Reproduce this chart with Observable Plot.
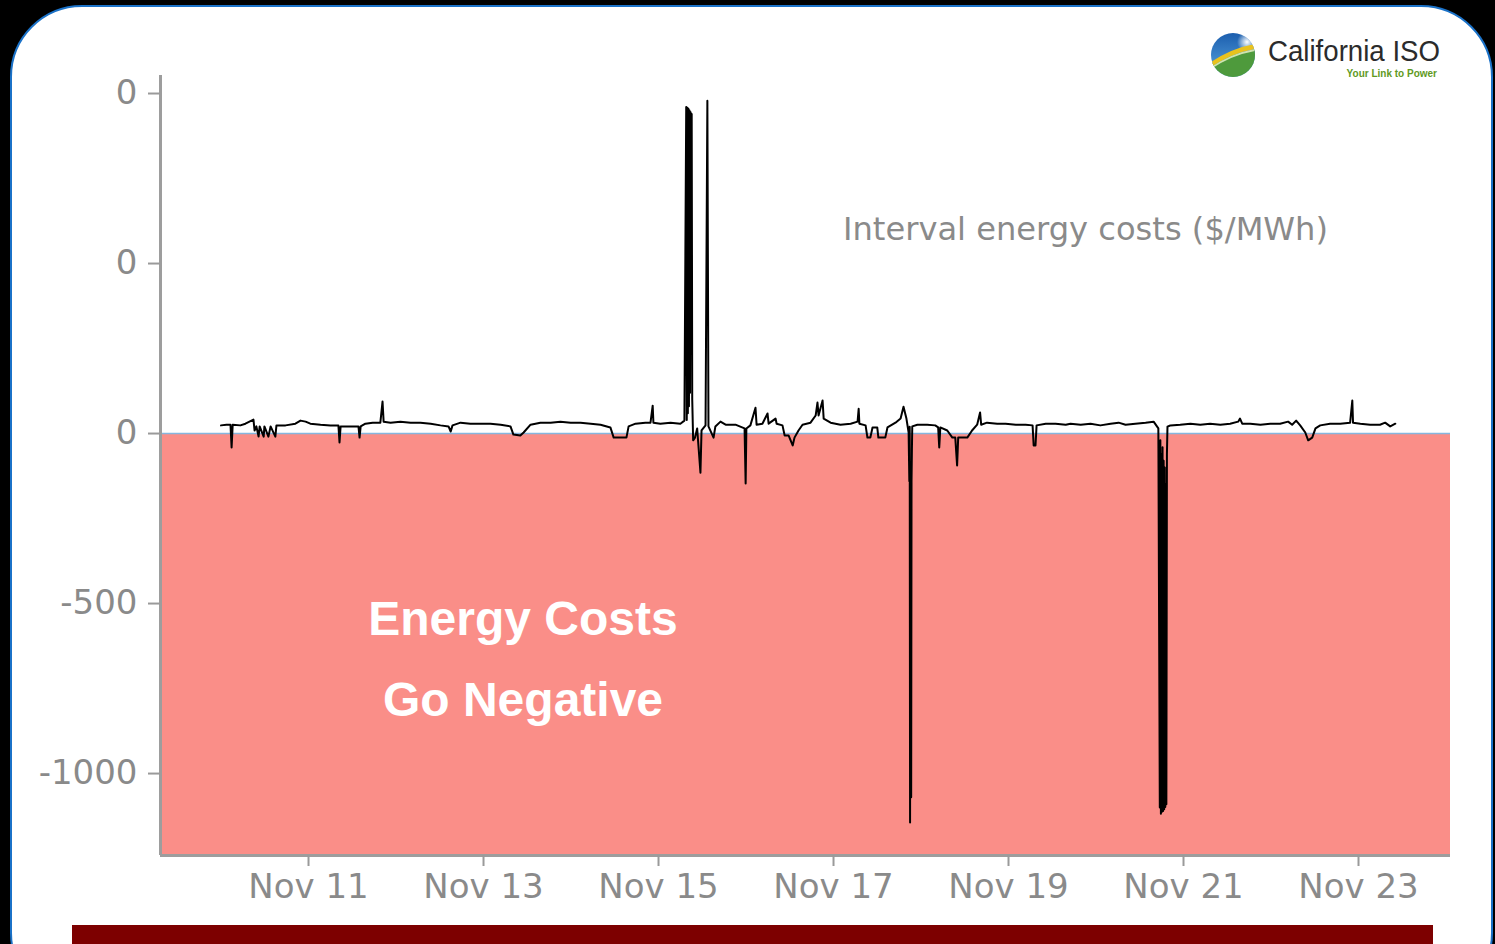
<!DOCTYPE html>
<html><head><meta charset="utf-8">
<script src="https://cdn.jsdelivr.net/npm/d3@7"></script>
<script src="https://cdn.jsdelivr.net/npm/@observablehq/plot@0.6"></script>
<style>
html,body{margin:0;padding:0;background:#000;width:1495px;height:944px;overflow:hidden;}
#slide{position:absolute;left:10px;top:5px;width:1483px;height:1000px;background:#fff;border:2px solid #1b72c8;border-radius:72px;box-sizing:border-box;}
#bar{position:absolute;left:72px;top:925px;width:1361px;height:30px;background:#7d0000;}
#chart{position:absolute;left:0;top:0;}
#overlay{position:absolute;left:0;top:0;}
</style></head><body>
<div id="slide"></div>
<div id="bar"></div>
<div id="chart"></div>
<svg id="overlay" width="1495" height="944">
  <defs>
    <clipPath id="lc"><circle cx="1233" cy="55" r="22"/></clipPath>
    <linearGradient id="sky" x1="0" y1="0" x2="0" y2="1"><stop offset="0" stop-color="#1c5eae"/><stop offset="1" stop-color="#5ba8e2"/></linearGradient>
    <radialGradient id="sun" cx="0.5" cy="0.5" r="0.5"><stop offset="0" stop-color="#ffffff"/><stop offset="1" stop-color="#ffffff" stop-opacity="0"/></radialGradient>
  </defs>
  <text x="843" y="240" font-family="DejaVu Sans" font-size="32" fill="#8a8a8a" textLength="485" lengthAdjust="spacingAndGlyphs">Interval energy costs ($/MWh)</text>
  <text x="523" y="635" text-anchor="middle" font-family="Liberation Sans, Arial" font-weight="bold" font-size="48" fill="#fff">Energy Costs</text>
  <text x="523" y="716" text-anchor="middle" font-family="Liberation Sans, Arial" font-weight="bold" font-size="48" fill="#fff">Go Negative</text>
  <g clip-path="url(#lc)">
    <rect x="1211" y="33" width="44" height="44" fill="url(#sky)"/>
    <circle cx="1247" cy="42" r="10" fill="url(#sun)"/>
    <path d="M1211 64 Q1232 52 1255 50 L1255 77 L1211 77 Z" fill="#4e9a3c"/>
    <path d="M1211 62 Q1232 48 1255 44 L1255 49 Q1232 53 1211 67 Z" fill="#e9c21e"/>
    <path d="M1211 67 Q1232 53 1255 49 L1255 51 Q1232 55 1211 69 Z" fill="#cfe3b0"/>
  </g>
  <text x="1268" y="61" font-family="Liberation Sans, Arial" font-size="29" fill="#2b2b2b" textLength="172" lengthAdjust="spacingAndGlyphs">California ISO</text>
  <text x="1437" y="77" text-anchor="end" font-family="Liberation Sans, Arial" font-weight="bold" font-size="10" fill="#5f9a1e">Your Link to Power</text>
</svg>
<script>
// Interval energy cost ($/MWh), [hour of day (UTC), price] per day
const nov10 = [[0,24],[1.5,26],[2.6,26],[2.9,-41],[3.2,26],[5.3,24],[6.7,29],[8.9,41],[9.2,9],[9.7,21],[10.3,-9],[10.6,21],[11.7,-9],[11.9,21],[13.0,-9],[13.6,21],[14.9,-9],[15.2,24],[17.7,24],[20.4,29],[21.8,38],[23.2,35]];
const nov11 = [[0.5,29],[3.3,26],[6.0,24],[8.2,24],[8.5,-26],[8.8,21],[11.5,21],[13.7,21],[14.0,-12],[14.3,21],[15.6,29],[17.6,32],[19.7,32],[20.3,94],[20.6,35],[22.5,32]];
const nov12 = [[1.2,35],[4.0,32],[6.7,32],[9.5,29],[12.2,24],[14.4,21],[15.0,6],[15.5,24],[17.7,32],[20.4,29],[23.2,29]];
const nov13 = [[1.9,29],[4.7,26],[7.4,21],[8.2,-3],[10.1,-6],[11.0,3],[12.9,26],[15.6,32],[18.4,32],[21.1,35],[23.9,32]];
const nov14 = [[2.6,32],[5.4,29],[8.1,26],[10.8,18],[11.7,-12],[15.2,-12],[15.8,21],[17.7,29],[20.4,32],[21.8,32],[22.4,82],[22.6,32]];
const nov15 = [[0.5,29],[3.3,32],[6.0,29],[7.1,38],[7.6,960],[7.75,40],[7.9,958],[8.05,60],[8.2,955],[8.35,80],[8.5,950],[8.65,120],[8.8,945],[8.95,300],[9.1,940],[9.25,100],[9.5,-20],[10.0,-12],[10.6,15],[11.5,-115],[11.8,9],[12.9,24],[13.4,979],[13.7,21],[15.1,-12],[15.6,21],[17.0,35],[18.4,26],[21.1,26],[23.6,15],[23.9,-147]];
const nov16 = [[0.1,15],[1.2,24],[2.6,76],[2.9,26],[4.5,29],[5.9,59],[6.2,29],[8.1,44],[8.4,29],[10.0,24],[10.6,-6],[11.7,-6],[12.8,-35],[13.3,-12],[14.4,9],[15.5,26],[17.7,32],[19.1,53],[19.6,91],[19.9,53],[21.0,97],[21.3,44],[23.2,32]];
const nov17 = [[1.9,26],[4.7,29],[6.6,35],[6.9,73],[7.1,29],[8.8,24],[9.3,-12],[10.1,-12],[10.7,18],[12.0,18],[12.3,-12],[14.2,-12],[14.8,18],[17.0,32],[18.4,44],[19.2,79],[20.0,44],[20.6,3],[20.8,-140],[20.9,20],[21.0,-1144],[21.1,-140],[21.2,-718],[21.3,-1070],[21.4,-140],[21.5,-50],[21.6,21],[23.0,26]];
const nov18 = [[1.7,26],[3.9,24],[4.7,18],[5.0,-41],[5.3,18],[7.2,9],[8.6,-12],[9.4,-12],[9.9,-94],[10.2,-12],[12.7,-12],[14.0,9],[15.4,26],[16.2,62],[16.5,26],[18.1,32],[20.9,29],[23.2,29]];
const nov19 = [[2.0,26],[4.7,26],[6.6,24],[6.9,-35],[7.4,-35],[7.7,24],[10.2,29],[12.9,29],[15.7,26],[17.0,29],[19.8,26],[22.5,29]];
const nov20 = [[1.2,24],[4.0,29],[6.2,32],[8.1,26],[10.8,29],[13.6,32],[15.8,35],[17.1,15],[17.5,-1100],[17.65,-20],[17.8,-1118],[17.95,-60],[18.1,-1112],[18.25,-40],[18.4,-1110],[18.55,-80],[18.7,-1105],[18.85,-100],[19.0,-1098],[19.15,-150],[19.3,-1090],[19.45,-60],[19.6,20],[20.4,24],[23.1,26]];
const nov21 = [[1.9,29],[4.6,26],[7.3,29],[10.1,26],[12.8,29],[15.0,35],[15.5,44],[16.1,29],[18.3,29],[21.1,26],[23.8,29]];
const nov22 = [[2.5,29],[4.7,35],[5.8,26],[6.9,38],[8.0,24],[9.4,3],[10.2,-20],[11.3,-12],[12.2,15],[13.5,24],[16.2,29],[19.0,29],[21.7,32],[22.3,97],[22.5,32]];
const nov23 = [[0.5,29],[3.2,26],[5.9,26],[7.3,32],[8.7,21],[10.1,29]];

const days = [nov10, nov11, nov12, nov13, nov14, nov15, nov16, nov17, nov18, nov19, nov20, nov21, nov22, nov23];
const yTicks = [1000, 500, 0, -500, -1000];
const yTickLabels = ["0", "0", "0", "-500", "-1000"];
const xTickDays = [11, 13, 15, 17, 19, 21, 23];

const start = Date.UTC(2017, 10, 10);
const series = days.flatMap((day, i) => day.map(([h, p]) => ({date: new Date(start + (i * 24 + h) * 3600e3), price: p})));
const xDomain = [new Date(Date.UTC(2017, 10, 9, 7, 24)), new Date(Date.UTC(2017, 10, 24, 1, 14))];
const yDomain = [-1241, 1053];
const xTicks = xTickDays.map(d => new Date(Date.UTC(2017, 10, d)));
const yLabel = new Map(yTicks.map((t, i) => [t, yTickLabels[i]]));
const fmt = d3.utcFormat("%b %d");

const chart = Plot.plot({
  width: 1495, height: 944,
  marginLeft: 160, marginRight: 45, marginTop: 75, marginBottom: 89,
  style: {background: "transparent", fontFamily: "DejaVu Sans", overflow: "visible"},
  x: {type: "utc", domain: xDomain},
  y: {domain: yDomain},
  marks: [
    Plot.rect([0], {x1: () => xDomain[0], x2: () => xDomain[1], y1: () => 0, y2: () => yDomain[0], fill: "#fa8e88"}),
    Plot.ruleY([0], {stroke: "#86b6de", strokeWidth: 1.5}),
    Plot.line(series, {x: "date", y: "price", stroke: "#000", strokeWidth: 2}),
    Plot.ruleX([xDomain[0]], {stroke: "#9d9d9d", strokeWidth: 3}),
    Plot.ruleY([yDomain[0]], {stroke: "#9d9d9d", strokeWidth: 3}),
    Plot.axisY({ticks: yTicks, tickFormat: d => yLabel.get(d), tickSize: 12, tickPadding: 11, fontSize: 34, stroke: "#9a9a9a", fill: "#8a8a8a", strokeWidth: 2, label: null}),
    Plot.axisX({ticks: xTicks, tickFormat: fmt, tickSize: 11, tickPadding: 7, fontSize: 34, stroke: "#9a9a9a", fill: "#8a8a8a", strokeWidth: 2, label: null})
  ]
});
document.getElementById("chart").appendChild(chart);
</script>
</body></html>
